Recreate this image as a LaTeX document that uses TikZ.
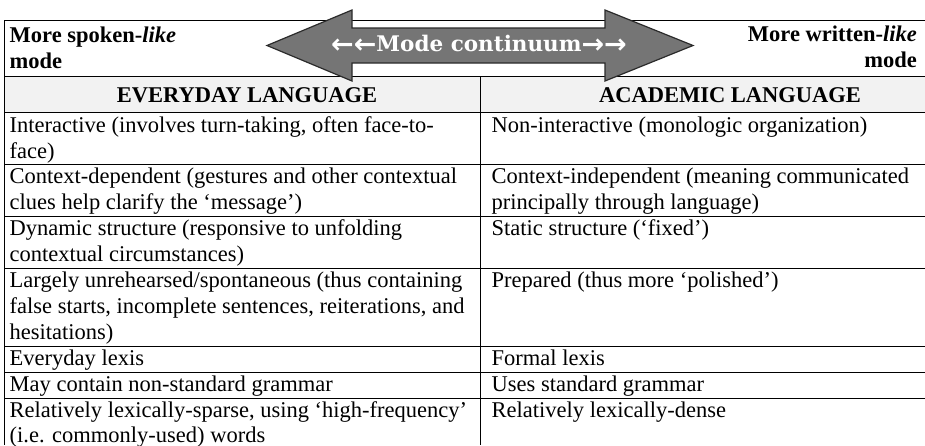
\documentclass[tikz,border=0pt]{standalone}
\usepackage{fontspec}
\setmainfont{Liberation Serif}
\newfontfamily\arrowfont{DejaVu Serif}
\newfontfamily\arrowglyphs{DejaVu Sans}
\definecolor{arrowgray}{HTML}{757575}
\definecolor{arrowline}{HTML}{2B2B2B}
\definecolor{headgray}{HTML}{F2F2F2}
\newcommand{\bigarr}[1]{{\arrowglyphs\bfseries\fontsize{27}{27}\selectfont\raisebox{-1.5pt}{#1}}}
\begin{document}
\begin{tikzpicture}[x=1pt,y=-1pt,
  txt/.style={inner sep=0pt, font=\fontsize{22.5}{26}\selectfont},
  lcell/.style={txt, anchor=base west},
  rcell/.style={txt, anchor=base east},
  boldtxt/.style={font=\fontsize{22.5}{26}\selectfont\bfseries},
  headtxt/.style={txt, anchor=base, boldtxt},
  rule/.style={line width=1pt, black},
  modearrow/.style={fill=arrowgray, draw=arrowline, line width=1.2pt, line join=miter},
  arrowlabel/.style={inner sep=0pt, anchor=base, text=white, font=\arrowfont\bfseries\fontsize{21.5}{24}\selectfont}
]
\useasboundingbox (0,0) rectangle (925,445);
\fill[white] (0,0) rectangle (925,445);
% header band
\fill[headgray] (4,76) rectangle (925,112.5);
% table rules
\draw[rule] (4,20) -- (925,20);
\draw[rule] (4,76) -- (925,76);
\draw[rule] (4,112.5) -- (925,112.5);
\draw[rule] (4,164) -- (925,164);
\draw[rule] (4,216) -- (925,216);
\draw[rule] (4,268) -- (925,268);
\draw[rule] (4,346) -- (925,346);
\draw[rule] (4,372) -- (925,372);
\draw[rule] (4,398) -- (925,398);
\draw[rule] (4,20) -- (4,445);
\draw[rule] (480,76) -- (480,445);
% top row
\node[lcell, boldtxt] (sp1) at (9.5,42.5) {More spoken-\textit{like}};
\node[lcell, boldtxt] (sp2) at (9.5,68.5) {mode};
\node[rcell, boldtxt] (wr1) at (917,41.5) {More written-\textit{like}};
\node[rcell, boldtxt] (wr2) at (917,67.5) {mode};
% arrow
\draw[modearrow] (267,45.5) -- (352,10) -- (352,28) -- (605,28) -- (605,10) -- (693,45.5)
  -- (605,81) -- (605,63) -- (352,63) -- (352,81) -- cycle;
\node[arrowlabel] (mc) at (479,51.5) {\bigarr{←←}Mode continuum\bigarr{→→}};
% headers
\node[headtxt] (hl) at (247,102) {EVERYDAY LANGUAGE};
\node[headtxt] (hr) at (730,102) {ACADEMIC LANGUAGE};
% left column
\node[lcell] (a1) at (9.5,132.5) {Interactive (involves turn-taking, often face-to-};
\node[lcell] (a2) at (9.5,158.5) {face)};
\node[lcell] (b1) at (9.5,183.5) {Context-dependent (gestures and other contextual};
\node[lcell] (b2) at (9.5,209.5) {clues help clarify the ‘message’)};
\node[lcell] (c1) at (9.5,235.5) {Dynamic structure (responsive to unfolding};
\node[lcell] (c2) at (9.5,261.5) {contextual circumstances)};
\node[lcell] (d1) at (9.5,287.5) {Largely unrehearsed/spontaneous (thus containing};
\node[lcell] (d2) at (9.5,313.5) {false starts, incomplete sentences, reiterations, and};
\node[lcell] (d3) at (9.5,339.5) {hesitations)};
\node[lcell] (e1) at (9.5,365.5) {Everyday lexis};
\node[lcell] (f1) at (9.5,391.5) {May contain non-standard grammar};
\node[lcell] (g1) at (9.5,417) {Relatively lexically-sparse, using ‘high-frequency’};
\node[lcell] (g2) at (9.5,442) {(i.e. commonly-used) words};
% right column
\node[lcell] (ra1) at (491.5,132.5) {Non-interactive (monologic organization)};
\node[lcell] (rb1) at (491.5,183.5) {Context-independent (meaning communicated};
\node[lcell] (rb2) at (491.5,209.5) {principally through language)};
\node[lcell] (rc1) at (491.5,235.5) {Static structure (‘fixed’)};
\node[lcell] (rd1) at (491.5,287.5) {Prepared (thus more ‘polished’)};
\node[lcell] (re1) at (491.5,365.5) {Formal lexis};
\node[lcell] (rf1) at (491.5,391.5) {Uses standard grammar};
\node[lcell] (rg1) at (491.5,417) {Relatively lexically-dense};
\end{tikzpicture}
\end{document}
